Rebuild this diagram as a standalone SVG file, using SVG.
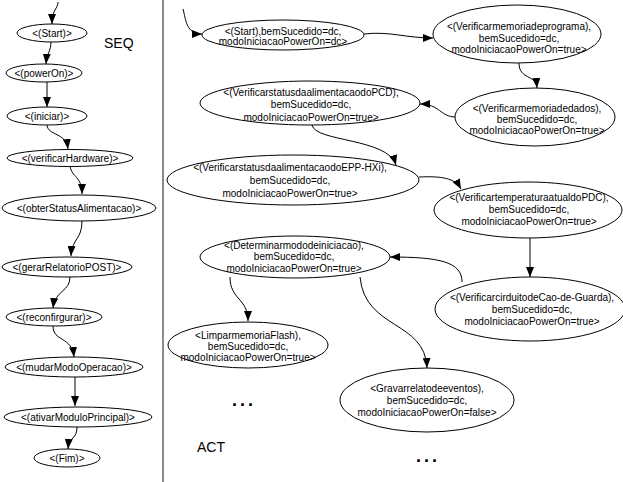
<svg xmlns="http://www.w3.org/2000/svg" width="623" height="482" viewBox="0 0 623 482">
  <style>
    .node ellipse { fill: #fff; stroke: #000; stroke-width: 1; }
    .node text { font-family: "Liberation Sans", Arial, sans-serif; font-size: 10px; fill: #000; text-anchor: middle; }
    .edges path { fill: none; stroke: #000; stroke-width: 1; marker-end: url(#arr); }
    .label { font-family: "Liberation Sans", Arial, sans-serif; font-size: 14px; fill: #000; }
    .dots { font-family: "Liberation Sans", Arial, sans-serif; font-size: 18px; font-weight: bold; letter-spacing: 3px; fill: #000; }
  </style>
  <defs>
    <marker id="arr" markerUnits="userSpaceOnUse" markerWidth="10" markerHeight="8" refX="10" refY="4" orient="auto">
      <path d="M0,0 L10,4 L0,8 z" fill="#000"/>
    </marker>
  </defs>
  <rect width="623" height="482" fill="#fff"/>

  <!-- divider between the two panels -->
  <line x1="163" y1="0" x2="163" y2="482" stroke="#666" stroke-width="1.5"/>

  <text class="label" x="104" y="48">SEQ</text>
  <text class="label" x="197" y="452">ACT</text>
  <text class="dots" x="232" y="406">...</text>
  <text class="dots" x="416" y="462">...</text>

  <!-- connectors -->
  <g class="edges" id="edges">
    <!-- sequence panel -->
    <path d="M58,2 C58,9 52,9 52,24"/>
    <path d="M51,41 C51,52 47,52 46,64"/>
    <path d="M47,81 L47,107"/>
    <path d="M47,125 C48,136 66,132 68,149"/>
    <path d="M70,166 C72,178 82,176 82,194"/>
    <path d="M82,221 C82,240 72,238 71,256"/>
    <path d="M70,277 C70,292 55,290 53,308"/>
    <path d="M53,326 C53,342 72,336 74,357"/>
    <path d="M75,377 L75,406"/>
    <path d="M77,427 C77,440 69,436 68,449"/>
    <!-- activity panel -->
    <path d="M183,9 C186,20 186,34 202,34"/>
    <path d="M364,34 C390,31 405,38 433,38"/>
    <path d="M519,63 C519,80 536,74 537,88"/>
    <path d="M456,117 C440,117 440,104 420,104"/>
    <path d="M312,125 C315,142 388,138 396,165"/>
    <path d="M419,177 C442,176 455,178 461,189"/>
    <path d="M530,238 L530,277"/>
    <path d="M462,282 C462,262 440,257 390,257"/>
    <path d="M230,277 C230,300 248,298 248,321"/>
    <path d="M360,277 C365,330 425,320 427,368"/>
  </g>

  <!-- sequence nodes -->
  <g class="node" id="seq-start"><ellipse cx="52" cy="33" rx="35" ry="9"/><text x="52" y="36.5">&lt;(Start)&gt;</text></g>
  <g class="node" id="seq-poweron"><ellipse cx="44" cy="73" rx="38" ry="9"/><text x="44" y="76.5">&lt;(powerOn)&gt;</text></g>
  <g class="node" id="seq-iniciar"><ellipse cx="47" cy="116" rx="40" ry="9"/><text x="47" y="119.5">&lt;(iniciar)&gt;</text></g>
  <g class="node" id="seq-verificarhardware"><ellipse cx="70" cy="158" rx="63" ry="8.5"/><text x="70" y="161.5">&lt;(verificarHardware)&gt;</text></g>
  <g class="node" id="seq-obterstatus"><ellipse cx="79" cy="208" rx="77" ry="13"/><text x="79" y="211.5">&lt;(obterStatusAlimentacao)&gt;</text></g>
  <g class="node" id="seq-gerarrelatorio"><ellipse cx="67" cy="267" rx="65" ry="10"/><text x="67" y="270.5">&lt;(gerarRelatorioPOST)&gt;</text></g>
  <g class="node" id="seq-reconfirgurar"><ellipse cx="54" cy="317" rx="48" ry="9"/><text x="54" y="320.5">&lt;(reconfirgurar)&gt;</text></g>
  <g class="node" id="seq-mudarmodo"><ellipse cx="74" cy="367" rx="69" ry="10"/><text x="74" y="370.5">&lt;(mudarModoOperacao)&gt;</text></g>
  <g class="node" id="seq-ativarmodulo"><ellipse cx="78" cy="417" rx="74" ry="10"/><text x="78" y="420.5">&lt;(ativarModuloPrincipal)&gt;</text></g>
  <g class="node" id="seq-fim"><ellipse cx="67" cy="458" rx="33" ry="9"/><text x="67" y="461.5">&lt;(Fim)&gt;</text></g>

  <!-- activity nodes -->
  <g class="node" id="act-start">
    <ellipse cx="283" cy="35" rx="81" ry="15"/>
    <text x="283" y="34.5">&lt;(Start),bemSucedido=dc,</text>
    <text x="283" y="45">modoIniciacaoPowerOn=dc&gt;</text>
  </g>
  <g class="node" id="act-memoria-programa">
    <ellipse cx="517" cy="34" rx="84" ry="29"/>
    <text x="519" y="30">&lt;(Verificarmemoriadeprograma),</text>
    <text x="519" y="41.5">bemSucedido=dc,</text>
    <text x="519" y="53">modoIniciacaoPowerOn=true&gt;</text>
  </g>
  <g class="node" id="act-memoria-dados">
    <ellipse cx="535" cy="117" rx="80" ry="29"/>
    <text x="537" y="112">&lt;(Verificarmemoriadedados),</text>
    <text x="537" y="123">bemSucedido=dc,</text>
    <text x="537" y="134">modoIniciacaoPowerOn=true&gt;</text>
  </g>
  <g class="node" id="act-status-pcd">
    <ellipse cx="310" cy="103" rx="110" ry="22"/>
    <text x="311" y="95.5">&lt;(VerificarstatusdaalimentacaodoPCD),</text>
    <text x="311" y="108">bemSucedido=dc,</text>
    <text x="311" y="120.5">modoIniciacaoPowerOn=true&gt;</text>
  </g>
  <g class="node" id="act-status-epp">
    <ellipse cx="293" cy="180" rx="126" ry="25"/>
    <text x="290" y="170.5">&lt;(VerificarstatusdaalimentacaodoEPP-HXi),</text>
    <text x="290" y="183.5">bemSucedido=dc,</text>
    <text x="290" y="196.5">modoIniciacaoPowerOn=true&gt;</text>
  </g>
  <g class="node" id="act-temperatura">
    <ellipse cx="528" cy="210" rx="94" ry="28"/>
    <text x="529" y="200.5">&lt;(VerificartemperaturaatualdoPDC),</text>
    <text x="529" y="212.5">bemSucedido=dc,</text>
    <text x="529" y="225">modoIniciacaoPowerOn=true&gt;</text>
  </g>
  <g class="node" id="act-cao-de-guarda">
    <ellipse cx="530" cy="309" rx="95" ry="32"/>
    <text x="532" y="300.5">&lt;(VerificarcirduitodeCao-de-Guarda),</text>
    <text x="532" y="312.5">bemSucedido=dc,</text>
    <text x="532" y="324.5">modoIniciacaoPowerOn=true&gt;</text>
  </g>
  <g class="node" id="act-determinar">
    <ellipse cx="295" cy="257" rx="95" ry="21"/>
    <text x="294" y="248.5">&lt;(Determinarmododeiniciacao),</text>
    <text x="294" y="260">bemSucedido=dc,</text>
    <text x="294" y="271.5">modoIniciacaoPowerOn=true&gt;</text>
  </g>
  <g class="node" id="act-limpar">
    <ellipse cx="248" cy="345" rx="80" ry="23"/>
    <text x="248" y="338.5">&lt;LimparmemoriaFlash),</text>
    <text x="248" y="349.5">bemSucedido=dc,</text>
    <text x="248" y="360.5">modoIniciacaoPowerOn=true&gt;</text>
  </g>
  <g class="node" id="act-gravar">
    <ellipse cx="427" cy="400" rx="87" ry="32"/>
    <text x="427" y="391.5">&lt;Gravarrelatodeeventos),</text>
    <text x="427" y="403.5">bemSucedido=dc,</text>
    <text x="427" y="415.5">modoIniciacaoPowerOn=false&gt;</text>
  </g>
</svg>
